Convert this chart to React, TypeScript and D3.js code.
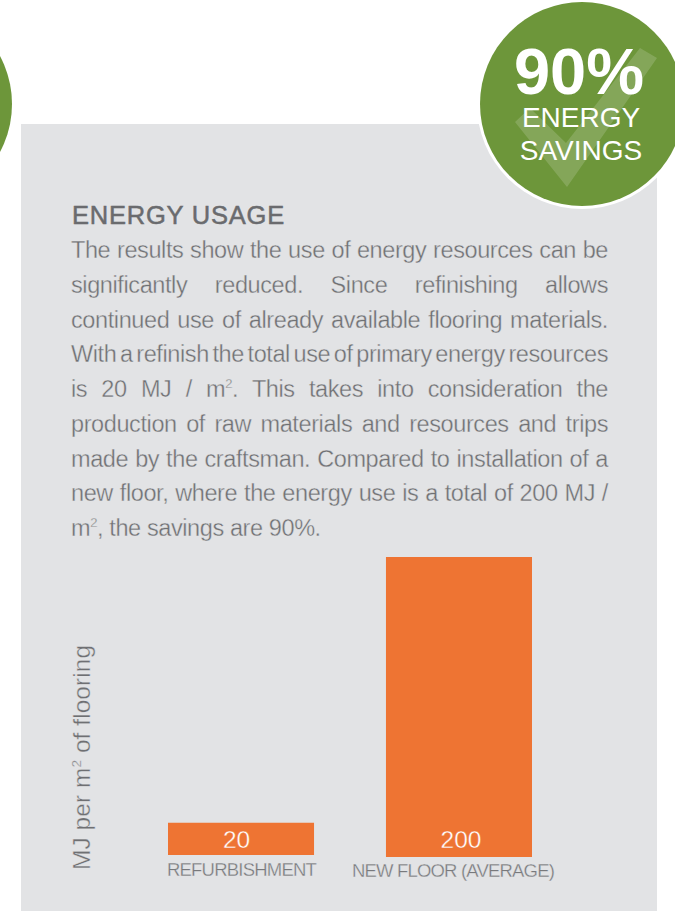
import * as React from "react";
import * as d3 from "d3";

const categories = ["REFURBISHMENT", "NEW FLOOR (AVERAGE)"];
// the printed figures, and the heights the bars are actually drawn at (not quite to scale)
const valueLabels = ["20", "200"];
const drawnValues = [21.5, 200];
const baselineNudge = [-2, 0];
const labelNudge = [-4.5, 2];

const title = "ENERGY USAGE";
const bodyLines = [
  ["The results show the use of energy resources can be"],
  ["significantly reduced. Since refinishing allows"],
  ["continued use of already available flooring materials."],
  ["With a refinish the total use of primary energy resources"],
  ["is 20 MJ / m", "2", ". This takes into consideration the"],
  ["production of raw materials and resources and trips"],
  ["made by the craftsman. Compared to installation of a"],
  ["new floor, where the energy use is a total of 200 MJ /"],
  ["m", "2", ", the savings are 90%."],
];

const FONT = "'Liberation Sans', Arial, sans-serif";
const GREEN = "#6d963a";
const PANEL = "#e2e3e5";
const ORANGE = "#ee7433";
const TEXT = "#6f7073";

const margin = { left: 168, right: 532, top: 557, bottom: 857 };

// the print is set in a light face: a thin outline in the background colour thins the glyphs
const thin = (bg: string, w = 0.35) => ({
  stroke: bg,
  strokeWidth: w,
});

function justify(node: SVGGElement) {
  d3.select(node)
    .selectAll<SVGTextElement, unknown>("text.justify")
    .each(function () {
      const sel = d3.select(this);
      const target = +sel.attr("data-width");
      const spaces = (this.textContent || "").split(" ").length - 1;
      sel.style("word-spacing", `${(target - this.getComputedTextLength()) / spaces}px`);
    });
}

function fit(node: SVGGElement) {
  // squeeze the labels to the width they have in the print
  d3.select(node)
    .selectAll<SVGTextElement, unknown>("text.fit")
    .each(function () {
      const sel = d3.select(this);
      const n = (this.textContent || "").length;
      sel.style("letter-spacing", `${(+sel.attr("data-width") - this.getComputedTextLength()) / n}px`);
    });
}

export default function App() {
  const ref = React.useRef<SVGGElement>(null);

  React.useLayoutEffect(() => {
    justify(ref.current!);
    fit(ref.current!);
  }, []);

  const xScale = d3
    .scaleBand()
    .domain(categories)
    .range([margin.left, margin.right])
    .paddingInner(0.33);
  const yScale = d3.scaleLinear().domain([0, 200]).range([margin.bottom, margin.top]);

  return (
    <svg
      width={675}
      height={913}
      style={{ position: "absolute", left: 0, top: 0, fontFamily: FONT }}
    >
      <g ref={ref}>
        <rect x={21} y={124} width={636} height={787} fill={PANEL} />

        <circle cx={-90} cy={104} r={102} fill={GREEN} />

        <circle cx={582} cy={104} r={105} fill="#fff" />
        <circle cx={582} cy={104} r={102} fill={GREEN} />
        <polygon
          points="515,122 530,108 566,143 640,48 657,58 567,187"
          fill="#fff"
          opacity={0.16}
        />
        <g fill="#fff" textAnchor="middle">
          <text x={579} y={94} fontSize={65} fontWeight={700}>90%</text>
          <text x={581} y={127} fontSize={28}>ENERGY</text>
          <text x={581} y={160} fontSize={28}>SAVINGS</text>
        </g>

        <text
          className="fit"
          data-width={213}
          x={72}
          y={224}
          fontSize={25.5}
          fill="#6a6b6e"
          stroke="#6a6b6e"
          strokeWidth={0.5}
        >
          {title}
        </text>

        <g fontSize={23.5} fill={TEXT} letterSpacing={-0.4} {...thin(PANEL)}>
          {bodyLines.map((parts, i) => (
            <text
              key={i}
              className={i < bodyLines.length - 1 ? "justify" : undefined}
              data-width={537}
              x={71}
              y={258 + i * 34.75}
            >
              {parts.map((p, j) =>
                p === "2" ? (
                  <tspan key={j} fontSize={13} dy={-9}>{p}</tspan>
                ) : (
                  <tspan key={j} dy={j > 0 ? 9 : 0}>{p}</tspan>
                ),
              )}
            </text>
          ))}
        </g>

        {categories.map((c, i) => {
          const top = yScale(drawnValues[i]) + baselineNudge[i];
          const h = yScale(0) - yScale(drawnValues[i]);
          const cx = xScale(c)! + xScale.bandwidth() / 2 + labelNudge[i];
          return (
            <g key={c}>
              <rect x={xScale(c)} y={top} width={xScale.bandwidth()} height={h} fill={ORANGE} />
              <text x={cx} y={848} textAnchor="middle" fontSize={24.5} fill="#fff" {...thin(ORANGE)}>
                {valueLabels[i]}
              </text>
            </g>
          );
        })}

        <g fontSize={18.5} fill="#78797c" {...thin(PANEL, 0.3)}>
          <text className="fit" data-width={149} x={167} y={876}>{categories[0]}</text>
          <text className="fit" data-width={202} x={352} y={877}>{categories[1]}</text>
        </g>

        <text
          transform="translate(90,870) rotate(-90)"
          fontSize={24.5}
          letterSpacing={0.05}
          fill={TEXT}
          {...thin(PANEL)}
        >
          MJ per m<tspan fontSize={13.5} dy={-9}>2</tspan><tspan dy={9}> of flooring</tspan>
        </text>
      </g>
    </svg>
  );
}
